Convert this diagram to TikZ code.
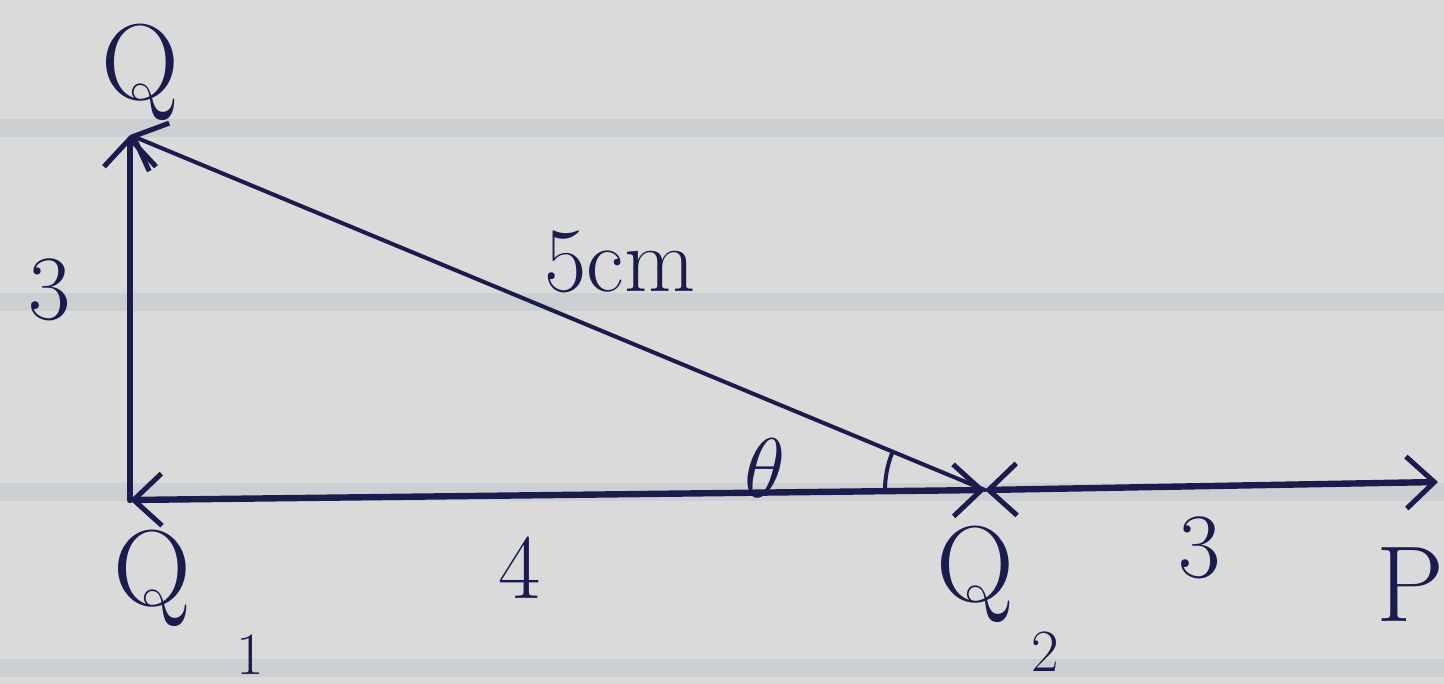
\documentclass[tikz,border=0pt]{standalone}
\usetikzlibrary{arrows.meta}
\definecolor{ink}{HTML}{1B1B4D}
\definecolor{paper}{HTML}{DADADA}
\definecolor{rule}{HTML}{CDD0D2}
\begin{document}
\begin{tikzpicture}[x=0.5pt,y=-0.5pt,
  pen/.style={draw=ink,line width=3.2pt,line cap=round},
  thinpen/.style={draw=ink,line width=2pt,line cap=round},
  tip/.style={-{Straight Barb[length=14pt,width=26pt,line width=2.5pt]}},
  tips/.style={{Straight Barb[length=14pt,width=26pt,line width=2.5pt]}-{Straight Barb[length=14pt,width=26pt,line width=2.5pt]}},
  lab/.style={text=ink,inner sep=0pt,font=\fontsize{54}{64}\selectfont},
  num/.style={text=ink,inner sep=0pt,font=\fontsize{46}{56}\selectfont},
  sub/.style={text=ink,inner sep=0pt,font=\fontsize{30}{36}\selectfont}]
% paper
\fill[paper] (0,0) rectangle (1444,684);
\useasboundingbox (0,0) rectangle (1444,684);
\foreach \y in {128,302,492,668}{\fill[rule] (0,\y-9) rectangle (1444,\y+9);}
% vertices
\coordinate (Q) at (130,135);
\coordinate (Q1) at (130,500);
\coordinate (Q2) at (985,490);
\coordinate (P) at (1438,482);
% sides
\draw[pen,tip] (Q1) -- (Q);
\draw[thinpen,tip] (Q2) -- (Q);
\draw[pen,tips] (Q1) -- (Q2);
\draw[pen,tips] (Q2) -- (P);
% angle
\draw[thinpen] ([shift={(202.5:100)}]Q2) arc[start angle=202.5,end angle=180,radius=100];
% labels
\node[lab] (lQ) at (140,72) {Q};
\node[lab] (lQ1) at (152,578) {Q};
\node[sub] (s1) at (250,655) {1};
\node[lab] (lQ2) at (975,574) {Q};
\node[sub] (s2) at (1045,652) {2};
\node[lab] (lP) at (1410,585) {P};
\node[num] (n3a) at (50,290) {3};
\node[num] (n5) at (620,262) {5cm};
\node[num] (n4) at (520,568) {4};
\node[num] (n3b) at (1200,548) {3};
\node[text=ink,inner sep=0pt,font=\fontsize{24}{30}\selectfont] (th) at (765,468) {\scalebox{1.7}{$\theta$}};
\end{tikzpicture}
\end{document}
